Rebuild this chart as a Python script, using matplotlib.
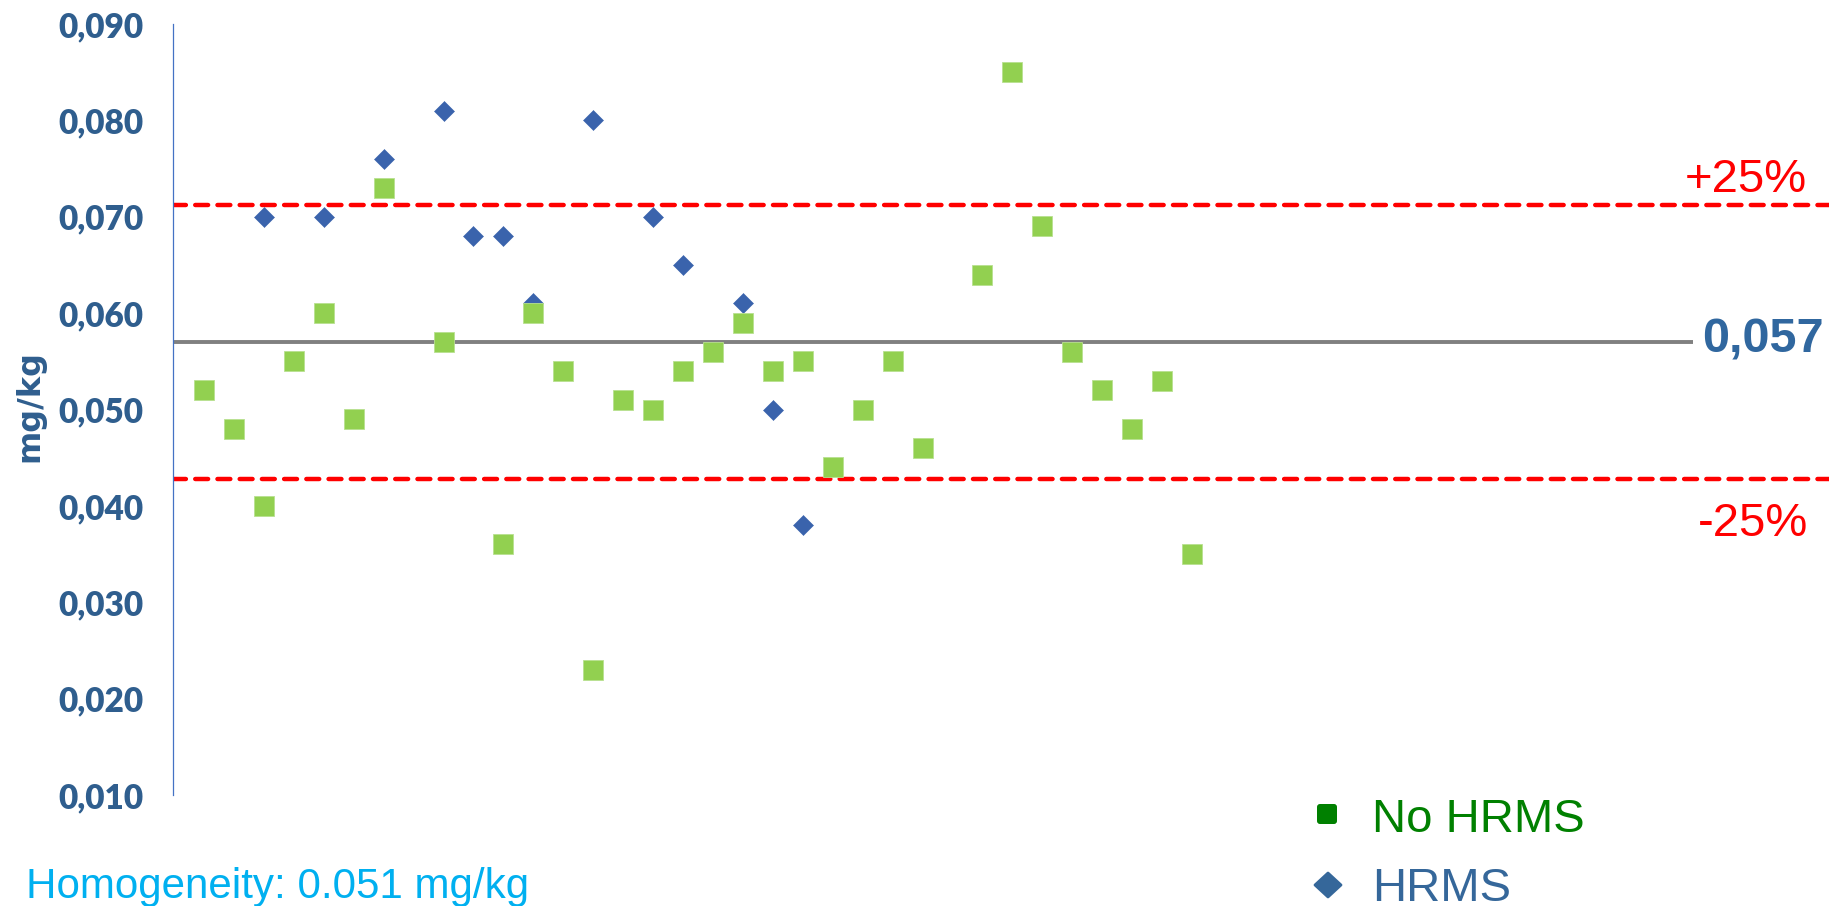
import matplotlib
matplotlib.use("Agg")
import matplotlib.pyplot as plt
from matplotlib.patches import FancyBboxPatch, Polygon
from matplotlib.ticker import FixedLocator, FuncFormatter

# ---- data -------------------------------------------------------------
# laboratory positions (1-based) and reported results in mg/kg
hrms_lab = [3, 5, 7, 9, 10, 11, 12, 14, 16, 17, 19, 20, 21]
hrms_val = [0.070, 0.070, 0.076, 0.081, 0.068, 0.068, 0.061, 0.080,
            0.070, 0.065, 0.061, 0.050, 0.038]

no_hrms_lab = [1, 2, 3, 4, 5, 6, 7, 9, 11, 12, 13, 14, 15, 16, 17, 18,
               19, 20, 21, 22, 23, 24, 25, 27, 28, 29, 30, 31, 32, 33, 34]
no_hrms_val = [0.052, 0.048, 0.040, 0.055, 0.060, 0.049, 0.073, 0.057,
               0.036, 0.060, 0.054, 0.023, 0.051, 0.050, 0.054, 0.056,
               0.059, 0.054, 0.055, 0.044, 0.050, 0.055, 0.046, 0.064,
               0.085, 0.069, 0.056, 0.052, 0.048, 0.053, 0.035]

assigned_value = 0.057
tolerance = 0.25
homogeneity = 0.051
y_ticks = [0.010, 0.020, 0.030, 0.040, 0.050, 0.060, 0.070, 0.080, 0.090]

# ---- layout -----------------------------------------------------------
W, H, DPI = 1829, 906, 100
fig = plt.figure(figsize=(W / DPI, H / DPI), dpi=DPI)
fig.patch.set_facecolor("white")

ax_left_px, ax_top_px, ax_bot_px = 173, 24, 795
ax = fig.add_axes([ax_left_px / W, (H - ax_bot_px) / H,
                   (W - ax_left_px) / W, (ax_bot_px - ax_top_px) / H])
ax.set_facecolor("none")

step_px = 29.94
x_min = 1 - (204 - ax_left_px) / step_px
x_max = x_min + (W - ax_left_px) / step_px
ax.set_xlim(x_min, x_max)
ax.set_ylim(y_ticks[0], y_ticks[-1])

# reference lines
upper = assigned_value * (1 + tolerance)
lower = assigned_value * (1 - tolerance)
ax.axhline(assigned_value, xmin=0, xmax=(1693 - ax_left_px) / (W - ax_left_px),
           color="#808080", lw=2.8, zorder=1, solid_capstyle="butt")
for lim in (upper, lower):
    ax.axhline(lim, color="#FF0000", lw=3.2, zorder=1,
               dashes=(2.9, 2.1), dash_capstyle="round")

# data markers
ax.plot(hrms_lab, hrms_val, ls="none", marker="D", ms=10.4,
        mfc="#3A63AC", mec="#3A63AC", mew=0.4, zorder=3)
ax.plot(no_hrms_lab, no_hrms_val, ls="none", marker="s", ms=14.0,
        mfc="#92D050", mec="#B8E090", mew=0.6, zorder=4)

# axes styling
for side in ("top", "right", "bottom"):
    ax.spines[side].set_visible(False)
ax.spines["left"].set_color("#4472C4")
ax.spines["left"].set_linewidth(0.9)
ax.xaxis.set_visible(False)
ax.yaxis.set_major_locator(FixedLocator(y_ticks))
ax.yaxis.set_major_formatter(FuncFormatter(lambda v, p: f"{v:.3f}".replace(".", ",")))
ax.tick_params(axis="y", length=0, pad=21.5, labelsize=24,
               labelcolor="#2F5E8E")
for lbl in ax.get_yticklabels():
    lbl.set_fontfamily("Lato")
    lbl.set_fontweight("heavy")

# ---- annotations in pixel coordinates --------------------------------
ov = fig.add_axes([0, 0, 1, 1], zorder=5)
ov.set_xlim(0, W)
ov.set_ylim(H, 0)
ov.axis("off")
ov.patch.set_alpha(0)

ov.text(30, 406, "mg/kg", rotation=90, ha="center", va="center",
        fontsize=23, fontweight="bold", family="DejaVu Sans", color="#2F5E8E")

ov.text(1807, 192, f"+{tolerance:.0%}", ha="right", va="baseline",
        fontsize=34, family="Liberation Sans", color="#FF0000")
ov.text(1808, 536, f"-{tolerance:.0%}", ha="right", va="baseline",
        fontsize=34, family="Liberation Sans", color="#FF0000")
ov.text(1702, 353, f"{assigned_value:.3f}".replace(".", ","), ha="left",
        va="baseline", fontsize=35, fontweight="bold",
        family="Liberation Sans", color="#30679F")

ov.text(26, 898, f"Homogeneity: {homogeneity:.3f} mg/kg", ha="left",
        va="baseline", fontsize=30.3, family="Liberation Sans", color="#00B0F0")

# legend
ov.add_patch(FancyBboxPatch((1320, 807), 14, 14,
                            boxstyle="round,pad=3", fc="#008000", ec="none"))
ov.add_patch(Polygon([(1328, 873), (1341, 885), (1328, 897), (1315, 885)],
                     closed=True, fc="#35679A", ec="#35679A", lw=2,
                     joinstyle="round"))
ov.text(1372, 832, "No HRMS", ha="left", va="baseline", fontsize=34,
        family="Liberation Sans", color="#008000")
ov.text(1372, 901, "HRMS", ha="left", va="baseline", fontsize=34,
        family="Liberation Sans", color="#35679A")

fig.savefig("out.png", dpi=DPI, facecolor="white")
